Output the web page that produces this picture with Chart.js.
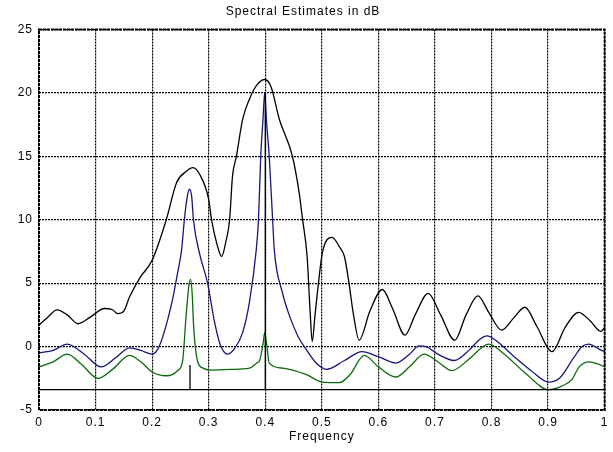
<!DOCTYPE html>
<html>
<head>
<meta charset="utf-8">
<script src="https://cdn.jsdelivr.net/npm/chart.js@4/dist/chart.umd.min.js"></script>
<style>
html,body{margin:0;padding:0;background:#fff;}
#wrap{width:613px;height:452px;position:relative;}
</style>
</head>
<body>
<div id="wrap"><canvas id="c" width="613" height="452"></canvas></div>
<script>
// ---- data (frequency, dB) ----
const blackFreq = [0,0.015,0.032,0.05,0.069,0.09,0.116,0.13,0.139,0.15,0.16,0.178,0.2,0.225,0.243,0.26,0.272,0.285,0.30,0.305,0.315,0.323,0.33,0.337,0.342,0.349,0.36,0.372,0.385,0.399,0.41,0.425,0.448,0.46,0.466,0.474,0.479,0.483,0.488,0.494,0.501,0.518,0.532,0.54,0.548,0.556,0.566,0.585,0.607,0.625,0.647,0.665,0.688,0.71,0.735,0.755,0.776,0.795,0.818,0.84,0.859,0.88,0.907,0.93,0.954,0.975,0.993,1.0];
const blackDB   = [1.7,2.3,2.9,2.5,1.8,2.3,3.0,2.9,2.6,2.8,3.9,5.4,6.8,10.0,12.9,13.8,14.1,13.5,11.6,10.0,8.0,7.1,8.2,10.0,13.4,15.0,17.9,19.5,20.6,21.05,20.5,17.9,15.0,12.1,10.0,7.1,3.0,0.4,2.5,5.0,7.4,8.6,7.8,7.1,5.0,2.5,0.5,2.8,4.5,3.0,0.9,2.5,4.2,2.5,0.5,2.5,4.0,2.7,1.3,2.3,3.1,1.6,-0.4,1.5,2.7,2.0,1.2,1.5];

const blueFreq = [0,0.025,0.05,0.08,0.11,0.135,0.16,0.18,0.2,0.21,0.219,0.236,0.245,0.252,0.257,0.262,0.266,0.27,0.273,0.284,0.298,0.31,0.32,0.333,0.345,0.36,0.372,0.384,0.388,0.392,0.396,0.399,0.402,0.407,0.413,0.416,0.43,0.443,0.458,0.472,0.49,0.508,0.54,0.571,0.6,0.631,0.655,0.672,0.684,0.705,0.734,0.76,0.78,0.792,0.81,0.84,0.87,0.901,0.92,0.945,0.96,0.972,0.99,1.0];
const blueDB   = [-0.5,-0.3,0.2,-0.6,-1.6,-0.9,-0.1,-0.3,-0.6,-0.2,0.8,3.7,5.8,7.6,10.0,11.8,12.4,11.8,10.0,7.3,5.0,2.0,0.2,-0.6,-0.2,1.1,3.5,7.6,10.0,15.0,17.9,20.0,17.9,15.0,10.0,7.6,4.3,2.4,0.8,-0.2,-1.3,-1.8,-1.1,-0.4,-0.8,-1.3,-0.6,0.05,0.0,-0.6,-1.1,-0.3,0.6,0.85,0.4,-0.8,-1.9,-2.8,-2.5,-0.9,0.0,0.2,-0.2,-0.4];

const greenFreq = [0,0.025,0.05,0.075,0.104,0.13,0.16,0.18,0.2,0.226,0.245,0.254,0.26,0.265,0.268,0.271,0.273,0.28,0.29,0.302,0.34,0.372,0.385,0.39,0.396,0.399,0.403,0.407,0.431,0.472,0.501,0.531,0.55,0.575,0.6,0.631,0.655,0.681,0.705,0.73,0.76,0.795,0.82,0.86,0.901,0.925,0.942,0.955,0.972,0.99,1.0];
const greenDB   = [-1.6,-1.2,-0.6,-1.4,-2.5,-1.8,-0.7,-1.2,-2.0,-2.3,-1.9,-1.1,2.4,4.8,5.3,4.0,1.9,-1.1,-1.7,-1.85,-1.8,-1.7,-1.3,-1.1,0.2,1.1,0.0,-1.3,-1.7,-2.2,-2.8,-2.85,-2.2,-0.7,-1.6,-2.4,-1.6,-0.6,-1.2,-1.9,-1.0,0.2,-0.5,-2.1,-3.4,-3.1,-2.6,-1.6,-1.2,-1.4,-1.6];

// true spectrum: baseline with two spectral lines
const trueFreq = [0,0.267,0.267,0.267,0.4,0.4,0.4,1.0];
const trueDB   = [-3.4,-3.4,-1.45,-3.4,-3.4,20,-3.4,-3.4];

const xTickLabels = ['0','0.1','0.2','0.3','0.4','0.5','0.6','0.7','0.8','0.9','1'];
const yTickLabels = ['-5','0','5','10','15','20','25'];

const pts = (f, v) => f.map((x, i) => ({x: x, y: v[i]}));
const FONT = 'Liberation Sans, Arial, Helvetica, sans-serif';

function ds(data, color, smooth){
  return {data: data, borderColor: color, borderWidth: 1.3, pointRadius: 0,
          cubicInterpolationMode: smooth ? 'monotone' : 'default', tension: 0, fill: false};
}

const spacing = {
  id: 'spacing',
  beforeDraw(chart){ chart.ctx.letterSpacing = '1px'; }
};
const box = {
  id: 'box',
  afterDraw(chart){
    const a = chart.chartArea, ctx = chart.ctx;
    ctx.save();
    ctx.strokeStyle = '#000';
    ctx.lineWidth = 2;
    ctx.setLineDash([3,1]);
    ctx.strokeRect(a.left, a.top, a.right - a.left, a.bottom - a.top);
    ctx.restore();
  }
};

new Chart(document.getElementById('c'), {
  type: 'line',
  data: {
    datasets: [
      ds(pts(trueFreq, trueDB), '#000000', false),
      ds(pts(greenFreq, greenDB), '#0a6a0a', true),
      ds(pts(blueFreq, blueDB), '#16167e', true),
      ds(pts(blackFreq, blackDB), '#000000', true)
    ]
  },
  options: {
    responsive: false,
    animation: false,
    layout: {padding: {left: 0, right: 7, top: 0, bottom: 8}},
    plugins: {
      legend: {display: false},
      tooltip: {enabled: false},
      title: {
        display: true,
        text: 'Spectral Estimates in dB',
        color: '#000',
        font: {family: FONT, size: 12, weight: 'normal'},
        padding: {top: 4, bottom: 11}
      }
    },
    scales: {
      x: {
        type: 'linear', min: 0, max: 1,
        afterFit: s => { s.height = 34; },
        border: {display: false, dash: [2,1]},
        grid: {color: '#000', lineWidth: 1.2, drawTicks: false},
        ticks: {
          stepSize: 0.1, color: '#000', padding: 5, maxRotation: 0,
          font: {family: FONT, size: 12},
          callback: (v, i) => xTickLabels[i]
        },
        title: {display: true, text: 'Frequency', color: '#000', font: {family: FONT, size: 12}, padding: {top: 0, bottom: 0}}
      },
      y: {
        type: 'linear', min: -5, max: 25,
        afterFit: s => { s.width = 39; },
        border: {display: false, dash: [2,1]},
        grid: {color: '#000', lineWidth: 1.2, drawTicks: false},
        ticks: {
          stepSize: 5, color: '#000', padding: 6,
          font: {family: FONT, size: 12},
          callback: (v, i) => yTickLabels[i]
        }
      }
    }
  },
  plugins: [spacing, box]
});
</script>
</body>
</html>
